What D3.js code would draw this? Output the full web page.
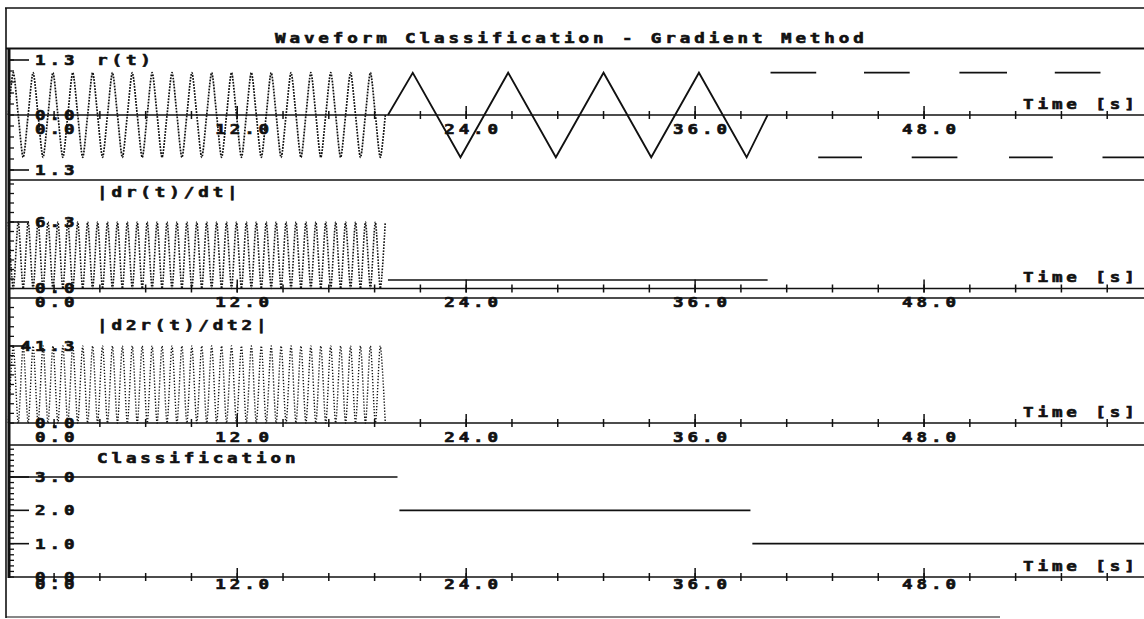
<!DOCTYPE html>
<html lang="en">
<head>
<meta charset="UTF-8">
<title>Waveform Classification - Gradient Method</title>
<script src="https://d3js.org/d3.v7.min.js"></script>
<style>
  body { margin: 0; background: #fff; }
  svg text {
    font-family: "DejaVu Sans Mono", monospace;
    font-weight: bold;
    font-size: 13.5px;
    letter-spacing: 3px;
    fill: #111;
    stroke: #111;
    stroke-width: 0.6px;
  }
</style>
</head>
<body>
<div id="chart"></div>
<script>
// knot times for the sine part (0 .. 20 s), shared by r, |dr/dt| and |d2r/dt2|
const sineT = [
  0.00, 0.26, 0.52, 0.78, 1.04, 1.30, 1.56, 1.82, 2.08, 2.34,
  2.60, 2.86, 3.12, 3.38, 3.64, 3.90, 4.16, 4.42, 4.68, 4.94,
  5.20, 5.46, 5.72, 5.98, 6.24, 6.50, 6.76, 7.02, 7.28, 7.54,
  7.80, 8.06, 8.32, 8.58, 8.84, 9.10, 9.36, 9.62, 9.88, 10.14,
  10.40, 10.66, 10.92, 11.18, 11.44, 11.70, 11.96, 12.22, 12.48, 12.74,
  13.00, 13.26, 13.52, 13.78, 14.04, 14.30, 14.56, 14.82, 15.08, 15.34,
  15.60, 15.86, 16.12, 16.38, 16.64, 16.90, 17.16, 17.42, 17.68, 17.94,
  18.20, 18.46, 18.72, 18.98, 19.24, 19.50, 19.76
];
const rVals = [
  0, 1, 0, -1, 0, 1, 0, -1, 0, 1,
  0, -1, 0, 1, 0, -1, 0, 1, 0, -1,
  0, 1, 0, -1, 0, 1, 0, -1, 0, 1,
  0, -1, 0, 1, 0, -1, 0, 1, 0, -1,
  0, 1, 0, -1, 0, 1, 0, -1, 0, 1,
  0, -1, 0, 1, 0, -1, 0, 1, 0, -1,
  0, 1, 0, -1, 0, 1, 0, -1, 0, 1,
  0, -1, 0, 1, 0, -1, 0
];
const drVals = [
  6.3, 0, 6.3, 0, 6.3, 0, 6.3, 0, 6.3, 0,
  6.3, 0, 6.3, 0, 6.3, 0, 6.3, 0, 6.3, 0,
  6.3, 0, 6.3, 0, 6.3, 0, 6.3, 0, 6.3, 0,
  6.3, 0, 6.3, 0, 6.3, 0, 6.3, 0, 6.3, 0,
  6.3, 0, 6.3, 0, 6.3, 0, 6.3, 0, 6.3, 0,
  6.3, 0, 6.3, 0, 6.3, 0, 6.3, 0, 6.3, 0,
  6.3, 0, 6.3, 0, 6.3, 0, 6.3, 0, 6.3, 0,
  6.3, 0, 6.3, 0, 6.3, 0, 6.3
];
const d2rVals = [
  0, 41.3, 0, 41.3, 0, 41.3, 0, 41.3, 0, 41.3,
  0, 41.3, 0, 41.3, 0, 41.3, 0, 41.3, 0, 41.3,
  0, 41.3, 0, 41.3, 0, 41.3, 0, 41.3, 0, 41.3,
  0, 41.3, 0, 41.3, 0, 41.3, 0, 41.3, 0, 41.3,
  0, 41.3, 0, 41.3, 0, 41.3, 0, 41.3, 0, 41.3,
  0, 41.3, 0, 41.3, 0, 41.3, 0, 41.3, 0, 41.3,
  0, 41.3, 0, 41.3, 0, 41.3, 0, 41.3, 0, 41.3,
  0, 41.3, 0, 41.3, 0, 41.3, 0
];

// triangle part of r(t) (20 .. 40 s)
const triT = [19.9, 21.2, 23.7, 26.2, 28.7, 31.2, 33.7, 36.2, 38.7, 39.8];
const triV = [0, 1, -1, 1, -1, 1, -1, 1, -1, 0];

// square part of r(t) (40 .. 60 s), only the flat pieces show
const sqStart = [39.9, 42.4, 44.8, 47.3, 49.8, 52.4, 54.8, 57.3];
const sqEnd   = [42.4, 44.8, 47.3, 49.8, 52.4, 54.8, 57.3, 60.0];
const sqLevel = [1, -1, 1, -1, 1, -1, 1, -1];

// |dr/dt| during the triangle
const drFlatT = [19.9, 39.8];
const drFlatV = [0.8, 0.8];

// classification result
const classStart = [0, 20.5, 39.0];
const classEnd   = [20.4, 38.9, 60];
const classVal   = [3, 2, 1];

const xMajor = [0, 12, 24, 36, 48];
const xMajorLabels = ["0.0", "12.0", "24.0", "36.0", "48.0"];

const W = 1144, H = 619;
const ink = "#111";

const svg = d3.select("#chart").append("svg")
  .attr("width", W)
  .attr("height", H);

const x = d3.scaleLinear().domain([0, 60]).range([8.3, 1153]);

// wide bitmap-ish text
function txt(px, py, s) {
  return svg.append("text")
    .attr("transform", `translate(${px},${py}) scale(1.3,1)`)
    .attr("dy", "0.36em")
    .text(s);
}

function hline(y, x0, x1, w) {
  svg.append("line").attr("x1", x0).attr("x2", x1).attr("y1", y).attr("y2", y)
    .attr("stroke", ink).attr("stroke-width", w);
}

// frame + separators
hline(8, 5, W, 1.5);
hline(48.5, 6, W, 2);
hline(180, 8, W, 1.5);
hline(298, 8, W, 1.5);
hline(445, 8, W, 1.5);
hline(617, 6, 1000, 1.2);
svg.append("line").attr("x1", 6).attr("x2", 6).attr("y1", 8).attr("y2", 618)
  .attr("stroke", ink).attr("stroke-width", 1.6);
svg.append("line").attr("x1", 9).attr("x2", 9).attr("y1", 49).attr("y2", 578)
  .attr("stroke", ink).attr("stroke-width", 3);

txt(275, 38, "Waveform Classification - Gradient Method");

const panels = [
  { y: d3.scaleLinear().domain([-1.3, 1.3]).range([170, 60]),
    minor: d3.range(-1.3, 1.31, 0.26), long: [1.3, -1.3], labels: ["1.3", "1.3"],
    title: "r(t)", titleY: 60, xLabY: 14 },
  { y: d3.scaleLinear().domain([0, 6.3]).range([288.5, 222]),
    minor: d3.range(0, 10.2, 0.9), long: [6.3], labels: ["6.3"],
    title: "|dr(t)/dt|", titleY: 192, xLabY: 14 },
  { y: d3.scaleLinear().domain([0, 41.3]).range([423, 346]),
    minor: d3.range(0, 66, 5.1625), long: [41.3], labels: ["41.3"],
    title: "|d2r(t)/dt2|", titleY: 325, xLabY: 14 },
  { y: d3.scaleLinear().domain([0, 3]).range([577, 477]),
    minor: d3.range(0, 3.9, 1 / 6), long: [3, 2, 1], labels: ["3.0", "2.0", "1.0"],
    title: "Classification", titleY: 458, xLabY: 7 }
];

panels.forEach((p, k) => {
  const y0 = p.y(0);
  const g = svg.append("g");

  // time axis
  hline(y0, 8, W, 1.6);
  g.selectAll("line.xt").data(d3.range(2.4, 60, 2.4)).join("line")
    .attr("x1", d => x(d)).attr("x2", d => x(d))
    .attr("y1", y0 - 4).attr("y2", y0 + 4)
    .attr("stroke", ink).attr("stroke-width", 1.5);
  g.selectAll("line.xm").data(xMajor.slice(1)).join("line")
    .attr("x1", d => x(d)).attr("x2", d => x(d))
    .attr("y1", y0 - 9).attr("y2", y0 + 4)
    .attr("stroke", ink).attr("stroke-width", 1.5);
  xMajor.forEach((t, i) => {
    const px = t === 0 ? 35 : x(t) + 4 - 26;
    txt(px, y0 + p.xLabY, xMajorLabels[i]);
  });
  txt(1023, y0 - 11, "Time [s]");

  // value axis ticks
  g.selectAll("line.yt").data(p.minor.filter(v => k > 0 || p.y(v) > 55)).join("line")
    .attr("x1", 8).attr("x2", 14)
    .attr("y1", d => p.y(d)).attr("y2", d => p.y(d))
    .attr("stroke", ink).attr("stroke-width", 1.3);
  p.long.forEach((v, i) => {
    hline(p.y(v), 8, 29, 1.6);
    const s = p.labels[i];
    txt(35 - (s.length - 3) * 14.5, p.y(v), s);
  });
  txt(35, y0, "0.0");
  txt(97, p.titleY, p.title);
});

const [pR, pD, pD2, pC] = panels;

// r(t): sine (dotted), triangle, square pieces
const sineLine = d3.line().curve(d3.curveCardinal.tension(0.2));
svg.append("path")
  .attr("d", sineLine(sineT.map((t, i) => [x(t), pR.y(rVals[i])])))
  .attr("fill", "none").attr("stroke", ink).attr("stroke-width", 1.7)
  .attr("stroke-dasharray", "1.8 1.2");
svg.append("path")
  .attr("d", d3.line()(triT.map((t, i) => [x(t), pR.y(triV[i])])))
  .attr("fill", "none").attr("stroke", ink).attr("stroke-width", 1.8);
svg.selectAll("line.sq").data(sqStart).join("line")
  .attr("x1", d => x(d) + 1).attr("x2", (d, i) => x(sqEnd[i]) - 1)
  .attr("y1", (d, i) => pR.y(sqLevel[i])).attr("y2", (d, i) => pR.y(sqLevel[i]))
  .attr("stroke", ink).attr("stroke-width", 1.7);

// |dr/dt|
svg.append("path")
  .attr("d", sineLine(sineT.map((t, i) => [x(t), pD.y(drVals[i])])))
  .attr("fill", "none").attr("stroke", ink).attr("stroke-width", 1.6)
  .attr("stroke-dasharray", "1.6 1.4");
svg.append("path")
  .attr("d", d3.line()(drFlatT.map((t, i) => [x(t), pD.y(drFlatV[i])])))
  .attr("fill", "none").attr("stroke", ink).attr("stroke-width", 1.6);

// |d2r/dt2|
svg.append("path")
  .attr("d", sineLine(sineT.map((t, i) => [x(t), pD2.y(d2rVals[i])])))
  .attr("fill", "none").attr("stroke", ink).attr("stroke-width", 1.4)
  .attr("stroke-dasharray", "1.3 1.7");

// classification
svg.selectAll("line.cl").data(classStart).join("line")
  .attr("x1", d => x(d)).attr("x2", (d, i) => x(classEnd[i]))
  .attr("y1", (d, i) => pC.y(classVal[i])).attr("y2", (d, i) => pC.y(classVal[i]))
  .attr("stroke", ink).attr("stroke-width", 1.7);
</script>
</body>
</html>
